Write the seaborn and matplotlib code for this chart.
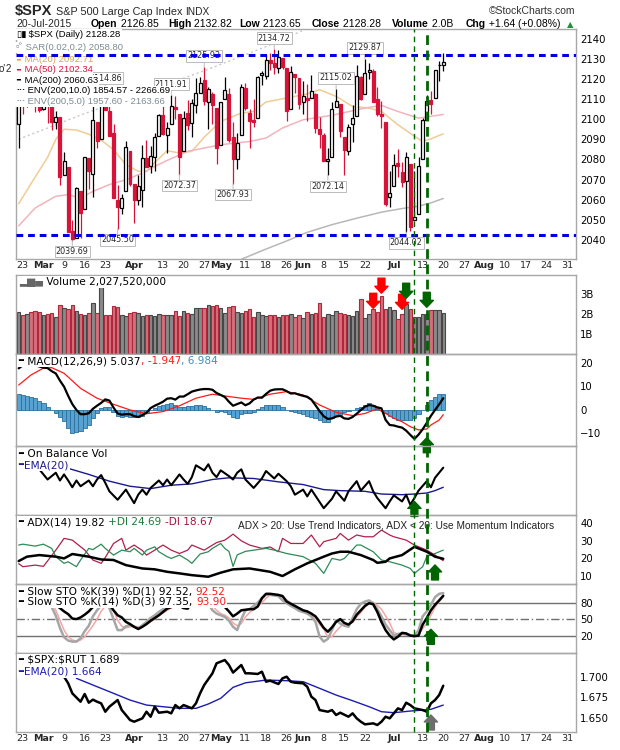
import matplotlib
matplotlib.use('Agg')
import matplotlib.pyplot as plt
import matplotlib.transforms as mtransforms
from matplotlib.lines import Line2D
import seaborn as sns

sns.set_theme(style='white')
plt.rcParams['font.family'] = ['DejaVu Sans']

# trading-day index: 0 = 20-Feb-2015 ... 103 = 20-Jul-2015, axis runs on to 31-Aug
opens = [2097.65, 2109.83, 2109.10, 2115.30, 2113.91, 2110.88, 2105.23, 2115.76, 2107.72, 2098.54,
         2100.91, 2072.25, 2076.14, 2044.69, 2041.10, 2064.56, 2055.35, 2080.59, 2072.84, 2098.69,
         2090.32, 2107.99, 2103.94, 2093.10, 2059.94, 2055.78, 2064.11, 2084.05, 2067.63, 2060.03,
         2064.87, 2080.79, 2076.94, 2081.29, 2091.51, 2102.03, 2092.28, 2097.82, 2105.96, 2102.58,
         2084.11, 2102.82, 2098.27, 2107.21, 2112.80, 2119.29, 2108.35, 2112.49, 2105.52, 2087.38,
         2110.23, 2112.63, 2091.26, 2079.96, 2092.13, 2115.56, 2102.87, 2099.62, 2100.43, 2122.07,
         2121.30, 2129.45, 2127.79, 2125.55, 2130.36, 2125.34, 2105.13, 2122.27, 2120.66, 2108.64,
         2110.41, 2110.64, 2112.35, 2095.09, 2092.34, 2079.07, 2081.12, 2106.24, 2107.43, 2091.34,
         2084.26, 2097.40, 2101.58, 2121.06, 2112.50, 2123.16, 2123.65, 2109.96, 2102.62, 2098.63,
         2061.19, 2067.00, 2078.03, 2073.95, 2069.52, 2077.66, 2049.73, 2052.74, 2080.03, 2099.72,
         2109.55, 2110.55, 2126.80, 2126.85]
highs = [2110.61, 2110.05, 2117.94, 2119.59, 2113.91, 2112.74, 2117.52, 2115.76, 2107.72, 2104.25,
         2100.91, 2083.49, 2076.14, 2050.08, 2066.41, 2064.56, 2081.41, 2080.59, 2106.85, 2098.69,
         2113.92, 2114.86, 2107.63, 2097.43, 2067.15, 2062.83, 2088.97, 2084.05, 2067.63, 2072.17,
         2086.99, 2089.81, 2086.69, 2093.31, 2102.61, 2107.65, 2098.62, 2111.91, 2111.30, 2102.58,
         2103.94, 2109.64, 2109.98, 2120.49, 2120.92, 2125.92, 2116.04, 2113.65, 2105.52, 2108.41,
         2120.95, 2115.24, 2098.42, 2092.90, 2117.66, 2117.69, 2105.06, 2110.19, 2121.45, 2123.89,
         2131.78, 2133.02, 2134.72, 2134.28, 2130.36, 2125.34, 2126.22, 2122.27, 2120.66, 2119.15,
         2117.59, 2121.92, 2112.89, 2100.99, 2093.01, 2085.62, 2108.50, 2115.02, 2107.43, 2091.34,
         2097.40, 2106.79, 2126.65, 2121.64, 2129.87, 2128.03, 2125.10, 2116.04, 2108.92, 2098.63,
         2074.28, 2082.78, 2085.06, 2078.61, 2083.74, 2077.66, 2074.28, 2081.31, 2100.67, 2111.98,
         2114.14, 2124.42, 2128.91, 2132.82]
lows = [2085.44, 2102.70, 2105.87, 2109.89, 2103.76, 2103.75, 2104.50, 2098.26, 2094.49, 2095.22,
        2067.27, 2072.21, 2044.16, 2039.69, 2041.10, 2041.17, 2055.35, 2065.08, 2061.23, 2085.56,
        2090.32, 2104.42, 2091.50, 2061.05, 2045.50, 2052.96, 2064.11, 2067.04, 2048.38, 2057.32,
        2056.52, 2076.10, 2073.30, 2074.29, 2091.51, 2092.33, 2083.24, 2097.82, 2100.02, 2072.37,
        2084.11, 2094.38, 2091.05, 2103.19, 2112.80, 2107.04, 2094.89, 2097.41, 2077.59, 2087.38,
        2110.23, 2088.46, 2067.93, 2074.99, 2092.13, 2104.58, 2085.57, 2096.04, 2100.43, 2116.81,
        2120.01, 2124.50, 2122.59, 2122.95, 2125.06, 2099.18, 2105.13, 2112.86, 2104.89, 2102.54,
        2099.14, 2110.64, 2093.23, 2085.67, 2079.11, 2072.14, 2081.12, 2106.24, 2091.33, 2072.49,
        2082.10, 2088.86, 2101.58, 2109.45, 2112.50, 2119.89, 2108.58, 2101.78, 2095.38, 2056.64,
        2056.32, 2067.00, 2071.02, 2066.11, 2044.02, 2044.66, 2049.73, 2052.74, 2080.03, 2099.72,
        2102.49, 2110.55, 2119.06, 2123.66]
closes = [2110.30, 2109.66, 2115.48, 2113.86, 2110.74, 2104.50, 2117.39, 2107.78, 2098.53, 2101.04,
          2071.26, 2079.43, 2044.16, 2040.24, 2065.95, 2053.40, 2081.19, 2074.28, 2099.50, 2089.27,
          2108.10, 2104.42, 2091.50, 2061.05, 2056.15, 2061.02, 2086.24, 2067.89, 2059.69, 2066.96,
          2080.62, 2076.33, 2081.90, 2091.18, 2102.06, 2092.43, 2095.84, 2106.63, 2104.99, 2081.18,
          2100.40, 2097.29, 2107.96, 2112.93, 2117.69, 2108.92, 2114.76, 2106.85, 2085.51, 2108.29,
          2114.49, 2089.46, 2080.15, 2088.00, 2116.10, 2105.33, 2099.12, 2098.48, 2121.10, 2122.73,
          2129.20, 2127.83, 2125.85, 2130.82, 2126.06, 2104.20, 2123.48, 2120.79, 2107.39, 2111.73,
          2109.60, 2114.07, 2095.84, 2092.83, 2079.28, 2080.15, 2105.20, 2108.86, 2094.11, 2084.43,
          2096.29, 2100.44, 2121.24, 2109.99, 2122.85, 2124.20, 2108.58, 2102.31, 2101.49, 2057.64,
          2063.11, 2077.42, 2076.78, 2068.76, 2081.34, 2046.68, 2051.31, 2076.62, 2099.60, 2108.95,
          2107.40, 2124.29, 2126.64, 2128.28]
volume_b = [2.08, 1.92, 2.00, 2.10, 2.13, 2.10, 1.95, 2.00, 2.02, 1.85,
            2.45, 2.28, 2.25, 2.45, 2.13, 2.00, 1.95, 2.05, 2.55, 2.05,
            3.35, 1.95, 1.92, 2.38, 2.33, 1.95, 1.90, 2.02, 2.10, 2.05,
            1.88, 1.95, 1.92, 1.88, 2.00, 1.95, 1.92, 1.95, 2.13, 1.88,
            2.13, 2.05, 2.00, 2.28, 2.30, 2.28, 2.45, 2.40, 2.45, 2.28,
            2.05, 2.33, 2.38, 2.10, 2.05, 2.12, 2.25, 1.85, 2.08, 1.95,
            1.90, 1.95, 1.92, 1.85, 1.92, 1.95, 1.97, 1.85, 1.95, 1.80,
            2.08, 2.00, 2.05, 2.52, 1.85, 2.00, 1.95, 2.12, 2.02, 2.00,
            1.93, 1.90, 2.13, 2.75, 1.80, 2.00, 2.22, 2.08, 2.90, 2.25,
            2.35, 2.20, 1.75, 2.00, 2.50, 2.25, 1.83, 1.83, 1.97, 2.00,
            2.20, 2.20, 2.20, 2.03]

ma20_days = [0, 3, 7, 9, 11, 14, 17, 20, 23, 26, 29, 31, 33, 36, 39, 42, 45, 49, 54, 57, 60, 64,
             67, 70, 73, 77, 81, 85, 88, 92, 96, 98, 100, 103]
ma20_vals = [2058, 2068, 2081, 2090, 2095, 2094.6, 2092.5, 2089.6, 2084.8, 2077.4, 2074.1, 2074,
             2078.5, 2084.3, 2083.2, 2084, 2091, 2098.9, 2103, 2103.8, 2108.5, 2110.1, 2111.3,
             2112.5, 2114.6, 2111.3, 2106.3, 2105.5, 2103.8, 2097.2, 2091.5, 2089, 2090.2, 2092.7]
ma50_days = [0, 4, 9, 12, 15, 18, 22, 26, 30, 33, 36, 41, 49, 56, 60, 64, 69, 76, 84, 88, 92, 97, 103]
ma50_vals = [2047, 2055.9, 2061.7, 2062.5, 2060.8, 2064.1, 2067.5, 2069.9, 2073.2, 2076.5, 2079.5,
             2084, 2087.3, 2088.9, 2090.6, 2095.6, 2099.7, 2101.9, 2105.5, 2106.8, 2103.8, 2100.5,
             2102.3]
ma200_days = [54, 60, 65, 70, 76, 82, 88, 93, 97, 100, 103]
ma200_vals = [2030.4, 2035.5, 2039.5, 2043.8, 2047.6, 2050.8, 2053.8, 2055.6, 2056.8, 2058.4, 2060.6]
env_days = [0, 15, 30, 45, 60, 70]
env_vals = [2090, 2102, 2113, 2124, 2136, 2145]

label_days = [13, 21, 24, 37, 39, 45, 52, 62, 75, 77, 84, 94]
label_is_low = [True, False, True, False, True, False, True, False, True, False, False, True]

macd = [17.7, 19.0, 19.5, 19.5, 19.0, 18.5, 18.0, 17.8, 16.5, 15.5,
        12.5, 9.9, 6.0, 2.5, 0.0, -1.8, -1.8, -1.4, 0.5, 1.8,
        3.0, 4.5, 4.0, 1.0, -1.5, -2.0, -1.8, -1.8, -2.6, -3.0,
        -2.2, -1.2, 0.8, 1.8, 2.6, 3.5, 4.8, 5.0, 4.4, 5.7,
        5.7, 6.7, 7.8, 8.3, 8.7, 8.9, 8.9, 8.6, 7.2, 6.4,
        5.5, 3.5, 1.8, 2.5, 3.2, 2.0, 2.8, 4.4, 5.3, 5.2,
        6.8, 8.2, 8.7, 8.8, 8.8, 8.0, 7.0, 7.1, 6.5, 6.0,
        5.6, 4.4, 2.0, -0.5, -2.7, -3.8, -3.6, -2.8, -2.5, -3.6,
        -3.8, -3.0, -1.6, 0.0, 1.4, 2.1, 1.8, 1.1, 0.7, -4.2,
        -6.4, -6.6, -7.1, -7.5, -8.8, -10.6, -12.3, -10.5, -8.2, -5.5,
        -2.5, 0.0, 2.4, 5.0]
macd_hist = [6.7, 6.4, 6.0, 5.5, 5.0, 4.0, 2.8, 1.4, -0.1, -1.1,
             -2.8, -4.7, -7.5, -9.9, -9.5, -8.9, -7.5, -6.4, -3.3, -1.4,
             0.7, 1.4, 1.1, -0.7, -2.4, -3.1, -2.7, -3.1, -2.8, -3.1,
             -2.4, -1.4, -0.1, 0.7, 1.8, 2.1, 2.7, 3.0, 2.1, 1.4,
             1.4, 1.7, 1.8, 2.1, 2.1, 1.7, 0.7, 0.0, -0.7, -0.4,
             -0.7, -1.8, -3.0, -3.3, -1.8, -1.4, -1.4, -1.0, 0.4, 1.4,
             2.1, 2.1, 2.3, 2.1, 1.4, 0.0, -0.4, -1.0, -1.4, -1.8,
             -2.4, -2.8, -3.3, -4.3, -5.0, -5.2, -3.5, -2.7, -2.1, -1.0,
             -0.4, 0.0, 1.0, 1.3, 2.1, 2.8, 2.1, 1.1, 0.0, -1.4,
             -2.4, -3.5, -4.3, -4.3, -4.3, -4.3, -3.5, -1.8, 0.0, 2.1,
             4.3, 5.7, 6.7, 7.0]
signal_days = [0, 3, 6, 8, 11, 15, 19, 23, 27, 31, 35, 39, 43, 47, 51, 54, 57, 61, 65, 69,
               73, 77, 81, 84, 87, 89, 91, 93, 95, 97, 99, 100, 102, 103]
signal_vals = [10.6, 14.9, 17.8, 18.0, 15.6, 9.2, 5.0, 2.4, 0.0, -1.6, -0.7, 1.8, 5.0, 6.7, 5.7,
               5.0, 4.5, 6.7, 7.8, 6.4, 2.1, -1.0, -2.4, -1.5, 0.5, -1.5, -3.5, -5.0, -7.1, -8.5,
               -8.1, -6.4, -4.3, -2.0]

obv_days = [5, 6, 7, 9, 10, 11, 12, 13, 14, 15, 17, 18, 19, 20, 21, 22, 24, 26, 27, 28,
            29, 30, 31, 32, 34, 35, 36, 37, 39, 40, 41, 42, 43, 45, 46, 47, 48, 49, 51, 52,
            53, 54, 55, 57, 59, 60, 62, 63, 65, 66, 67, 69, 70, 71, 74, 76, 77, 79, 80, 82,
            83, 85, 86, 87, 89, 90, 91, 93, 94, 95, 96, 97, 99, 100, 101, 103]
obv_vals = [25.5, 24.0, 22.5, 24.5, 22.2, 24.0, 22.2, 20.2, 22.2, 20.5, 22.2, 20.5, 22.5, 23.8,
            21.5, 19.0, 16.5, 19.5, 17.5, 15.5, 18.0, 19.5, 18.0, 20.0, 22.2, 20.8, 22.5, 20.8,
            24.0, 22.5, 21.2, 23.2, 26.7, 25.2, 27.0, 24.5, 23.2, 25.2, 23.5, 22.5, 24.5, 25.5,
            22.5, 20.0, 22.8, 25.0, 22.8, 24.2, 22.0, 20.5, 18.0, 19.5, 17.5, 19.5, 14.0, 16.8,
            19.0, 16.2, 19.0, 22.0, 19.2, 22.0, 19.0, 17.0, 14.0, 16.0, 17.8, 16.0, 18.0, 15.0,
            17.0, 19.2, 22.0, 20.2, 23.0, 26.0]
obv_ema_days = [12, 17, 22, 27, 32, 37, 42, 47, 51, 57, 63, 69, 74, 78, 84, 88, 93, 96, 99, 101, 103]
obv_ema_vals = [25.8, 24.0, 22.0, 20.5, 19.8, 20.8, 21.2, 22.5, 23.0, 22.8, 21.8, 21.0, 19.5,
                19.2, 19.0, 18.2, 18.0, 18.2, 18.5, 19.2, 20.2]

adx_days = [0, 2, 5, 9, 11, 13, 17, 20, 23, 26, 30, 33, 36, 39, 42, 46, 49, 52, 56, 61,
            64, 67, 70, 74, 76, 78, 80, 83, 86, 87, 89, 90, 93, 96, 99, 101, 103]
adx_vals = [18.5, 21.0, 21.9, 21.0, 20.0, 22.5, 21.0, 19.4, 19.1, 16.2, 14.3, 13.8, 12.4, 11.5,
            10.5, 9.6, 11.9, 13.8, 14.3, 12.4, 10.0, 13.8, 17.2, 21.0, 22.8, 23.8, 23.8, 21.9,
            19.1, 17.5, 18.1, 20.0, 21.9, 26.6, 23.8, 21.0, 19.8]
pdi_days = [0, 1, 4, 6, 8, 9, 11, 12, 14, 15, 17, 18, 20, 21, 23, 25, 27, 28, 30, 31,
            33, 34, 36, 37, 39, 41, 42, 44, 46, 47, 49, 50, 51, 52, 53, 55, 57, 60, 62, 65,
            69, 72, 74, 76, 78, 79, 82, 83, 86, 88, 90, 93, 95, 96, 98, 99, 101, 103]
pdi_vals = [27.6, 28.1, 27.0, 28.1, 25.7, 21.0, 17.2, 18.1, 15.3, 19.1, 25.7, 25.0, 28.1, 25.7,
            21.9, 24.7, 23.8, 25.7, 21.9, 24.7, 26.6, 23.8, 21.0, 20.0, 21.9, 19.1, 17.2, 22.5,
            23.8, 25.7, 28.5, 25.7, 24.0, 15.5, 22.0, 24.0, 24.7, 25.7, 24.7, 22.8, 21.0, 17.2,
            11.5, 20.0, 19.0, 20.0, 27.6, 27.6, 23.8, 19.1, 18.1, 16.2, 14.3, 11.5, 15.3, 21.0,
            22.8, 24.7]
mdi_days = [0, 1, 4, 6, 9, 11, 13, 16, 18, 20, 21, 23, 25, 26, 28, 30, 31, 33, 35, 37,
            39, 41, 42, 45, 48, 50, 52, 54, 56, 59, 61, 63, 64, 66, 69, 71, 73, 74, 77, 78,
            80, 82, 84, 86, 88, 90, 91, 94, 96, 99, 101, 103]
mdi_vals = [17.0, 15.3, 16.2, 15.5, 24.7, 31.4, 30.4, 24.8, 19.1, 17.2, 20.5, 28.5, 31.4, 24.7,
            27.6, 24.5, 21.9, 24.7, 27.6, 24.7, 22.8, 24.7, 27.6, 24.7, 29.0, 30.4, 33.8, 30.0,
            27.6, 25.7, 26.5, 23.8, 31.4, 28.5, 28.5, 33.3, 26.6, 29.5, 31.4, 34.2, 30.4, 33.3,
            32.3, 32.3, 36.1, 33.3, 32.3, 30.4, 27.6, 24.7, 21.9, 18.7]

sto_k39 = [85, 86, 87, 88, 87, 85, 84, 82, 80, 76, 70, 64, 59, 51, 50, 53, 58, 64, 72, 80,
           86, 84, 76, 66, 57, 53, 45, 41, 36, 32, 36, 41, 47, 52, 57, 63, 69, 72, 75, 74,
           70, 69, 80, 88, 88, 86, 80, 74, 73, 75, 72, 64, 55, 60, 66, 67, 68, 68, 73, 88,
           96, 96, 95, 94, 92, 82, 78, 74, 70, 66, 64, 60, 55, 45, 34, 27, 35, 45, 50, 43,
           40, 46, 58, 66, 74, 79, 77, 63, 45, 30, 20, 13, 18, 25, 24, 20, 19, 20, 40, 52,
           66, 76, 84, 92.5]
sto_k14 = [90, 91, 90, 89, 88, 86, 84, 82, 72, 56, 34, 17, 11, 9, 9, 15, 28, 38, 55, 66,
           75, 80, 70, 50, 30, 30, 37, 39, 36, 33, 39, 45, 52, 57, 63, 68, 70, 75, 80, 79,
           78, 82, 90, 94, 95, 88, 78, 66, 60, 57, 54, 47, 36, 30, 50, 66, 68, 74, 80, 88,
           95, 94, 93, 92, 84, 79, 74, 70, 65, 63, 60, 55, 45, 18, 9, 14, 30, 48, 42, 38,
           36, 52, 68, 78, 82, 84, 79, 68, 55, 40, 30, 20, 23, 24, 22, 21, 19, 30, 55, 64,
           76, 90, 96, 97.4]
sto_d3 = [90, 90, 90, 89, 88, 88, 86, 84, 80, 66, 48, 30, 18, 12, 10, 12, 18, 28, 38, 50,
          64, 74, 76, 66, 48, 37, 34, 36, 37, 36, 37, 40, 45, 50, 56, 61, 66, 70, 76, 78,
          78, 80, 85, 89, 92, 90, 84, 74, 66, 60, 57, 52, 43, 38, 42, 54, 62, 68, 74, 80,
          88, 94, 94, 93, 90, 85, 79, 73, 69, 66, 64, 60, 53, 40, 32, 17, 18, 28, 36, 42,
          40, 44, 54, 62, 72, 78, 80, 75, 68, 56, 43, 26, 22, 22, 22, 21, 21, 23, 33, 42,
          57, 72, 82, 90]

ratio_days = [10, 11, 12, 13, 15, 16, 17, 18, 19, 20, 21, 22, 24, 25, 26, 27, 28, 30, 31, 32,
              33, 34, 36, 37, 38, 39, 40, 42, 43, 44, 45, 47, 48, 49, 50, 51, 52, 54, 55, 56,
              58, 59, 60, 61, 63, 64, 65, 66, 67, 69, 70, 71, 72, 73, 75, 76, 77, 78, 80, 81,
              82, 83, 84, 86, 87, 88, 89, 90, 92, 93, 94, 95, 96, 98, 99, 100, 101, 102, 103]
ratio_vals = [1.7030, 1.7000, 1.6919, 1.6797, 1.6695, 1.6789, 1.6683, 1.6720, 1.6695, 1.6675,
              1.6573, 1.6634, 1.6715, 1.6593, 1.6533, 1.6472, 1.6451, 1.6492, 1.6573, 1.6512,
              1.6634, 1.6561, 1.6573, 1.6553, 1.6654, 1.6614, 1.6654, 1.6614, 1.6675, 1.6797,
              1.6898, 1.7041, 1.7163, 1.7183, 1.7203, 1.7142, 1.7050, 1.7142, 1.7041, 1.7041,
              1.7033, 1.7061, 1.6939, 1.6951, 1.6911, 1.6980, 1.7000, 1.6939, 1.6927, 1.6919,
              1.6878, 1.6756, 1.6715, 1.6593, 1.6573, 1.6593, 1.6533, 1.6561, 1.6512, 1.6553,
              1.6492, 1.6451, 1.6419, 1.6431, 1.6411, 1.6451, 1.6512, 1.6492, 1.6614, 1.6593,
              1.6683, 1.6654, 1.6614, 1.6593, 1.6573, 1.6675, 1.6715, 1.6776, 1.6890]
ratio_ema_days = [14, 19, 23, 27, 31, 35, 39, 43, 46, 49, 52, 55, 60, 65, 69, 73, 77, 81, 85,
                  88, 91, 95, 98, 100, 103]
ratio_ema_vals = [1.6980, 1.6878, 1.6797, 1.6715, 1.6654, 1.6634, 1.6614, 1.6614, 1.6667,
                  1.6736, 1.6870, 1.6925, 1.6959, 1.6951, 1.6939, 1.6858, 1.6776, 1.6707,
                  1.6634, 1.6573, 1.6561, 1.6581, 1.6593, 1.6602, 1.6654]

tick_days = [1, 6, 11, 16, 21, 28, 35, 40, 45, 49, 55, 60, 65, 69, 74, 79, 84, 91, 98, 103,
             108, 113, 118, 123, 128, 133]
tick_text = ['23', 'Mar', '9', '16', '23', 'Apr', '13', '20', '27', 'May', '11', '18', '26',
             'Jun', '8', '15', '22', 'Jul', '13', '20', '27', 'Aug', '10', '17', '24', '31']
months = {'Mar', 'Apr', 'May', 'Jun', 'Jul', 'Aug'}
marker_days = [96, 99]

# ------------------------------------------------------------------
W, H = 620, 750
L, R = 15.5, 576
XLIM = (-0.78, 135.2)
RED = '#d8133a'
GREEN = '#006400'
BORDER = '#a8a8a8'
PL = ['Liberation Sans', 'DejaVu Sans']
DV = ['DejaVu Sans']
days = list(range(len(closes)))

fig = plt.figure(figsize=(6.2, 7.5), dpi=100)


def panel(top, bottom):
    ax = fig.add_axes([L / W, 1 - bottom / H, (R - L) / W, (bottom - top) / H])
    ax.set_facecolor('none')
    ax.set_xlim(*XLIM)
    for s in ax.spines.values():
        s.set_color(BORDER)
        s.set_linewidth(1)
    ax.set_xticks([])
    ax.yaxis.tick_right()
    ax.tick_params(axis='y', length=0, pad=3, labelsize=7.3, colors='black')
    return ax


def line(ax, x, y, color, lw, z=3):
    sns.lineplot(x=x, y=y, ax=ax, color=color, linewidth=lw, estimator=None,
                 sort=False, legend=False, zorder=z)


def chain(ax, x, y, parts, size, family=DV, bg=True, va='center', z=30):
    prev = None
    for txt, col, wt in parts:
        kw = dict(fontsize=size, color=col, fontweight=wt, family=family,
                  zorder=z, annotation_clip=False, ha='left')
        if bg:
            kw['bbox'] = dict(boxstyle='square,pad=0.08', fc='white', ec='none')
        if prev is None:
            prev = ax.annotate(txt, xy=(x, H - y), xycoords='figure pixels', va=va, **kw)
        else:
            prev = ax.annotate(txt, xy=(1, 0), xycoords=prev, va='bottom', **kw)
    return prev


def block_arrow(ax, day, tip, up, color):
    ax.annotate('', xy=(day, tip), xytext=(0, -15 if up else 15), textcoords='offset pixels',
                arrowprops=dict(arrowstyle='simple,head_length=0.5,head_width=0.95,tail_width=0.5',
                                fc=color, ec=color, shrinkA=0, shrinkB=0, mutation_scale=10),
                annotation_clip=False, zorder=25)


def date_axis(ax):
    ax.set_xticks(tick_days)
    ax.set_xticklabels(tick_text)
    ax.set_xticks(range(0, 136), minor=True)
    ax.tick_params(axis='x', which='major', length=2.5, width=0.7, color=BORDER,
                   pad=1.5, labelsize=6.8, direction='in')
    ax.tick_params(axis='x', which='minor', length=1.5, width=0.5, color=BORDER, direction='in')
    for lab in ax.get_xticklabels():
        if lab.get_text() in months:
            lab.set_fontweight('bold')


ax_p = panel(29.3, 259.3)
ax_v = panel(274.5, 354)
ax_m = panel(354, 445.7)
ax_o = panel(445.7, 515.3)
ax_a = panel(515.3, 584.3)
ax_s = panel(584.3, 653.3)
ax_r = panel(653.3, 732.3)

# ---------------- header ----------------
fig.text(15 / W, 1 - 15 / H, r'\$SPX', fontsize=10.5, fontweight='bold', family=PL, va='baseline')
fig.text(56 / W, 1 - 15 / H, 'S&P 500 Large Cap Index', fontsize=7.8, family=PL, va='baseline')
fig.text(185 / W, 1 - 15 / H, 'INDX', fontsize=7.3, family=PL, va='baseline')
fig.text(575 / W, 1 - 14 / H, '\u00a9StockCharts.com', fontsize=7.5, ha='right',
         family=PL, va='baseline', color='#333333')
fig.text(16 / W, 1 - 27 / H, '20-Jul-2015', fontsize=7.5, family=PL, va='baseline')
for x0, name, val in [(91, 'Open', '2126.85'), (168, 'High', '2132.82'), (239, 'Low', '2123.65'),
                      (312, 'Close', '2128.28'), (392, 'Volume', '2.0B'),
                      (466, 'Chg', '+1.64 (+0.08%)')]:
    chain(ax_p, x0, 27, [(name, 'black', 'bold'), (' ' + val, 'black', 'normal')], 7.5,
          family=PL, bg=False, va='baseline')
fig.text(567 / W, 1 - 27 / H, '\u25b2', fontsize=6, color='#1f8f3a', va='baseline', family=DV)
fig.text(-1 / W, 1 - 69 / H, "o'", fontsize=7, family=PL, va='center')
fig.text(6 / W, 1 - 69 / H, '2', fontsize=7, family=PL, va='center')

# ---------------- price ----------------
edge_cols, face_cols, bottoms, heights = [], [], [], []
for i in days:
    down = i > 0 and closes[i] < closes[i - 1]
    c = RED if down else 'black'
    edge_cols.append(c)
    face_cols.append('white' if closes[i] >= opens[i] else c)
    bottoms.append(min(opens[i], closes[i]))
    heights.append(max(abs(closes[i] - opens[i]), 0.35))

line(ax_p, env_days, env_vals, '#c8c8c8', 1.0, z=1)
ax_p.lines[-1].set_linestyle((0, (1.5, 2)))
line(ax_p, ma20_days, ma20_vals, '#f0cc94', 1.1, z=1)
line(ax_p, ma50_days, ma50_vals, '#f2b4bc', 1.1, z=1)
line(ax_p, ma200_days, ma200_vals, '#b8b8b8', 1.1, z=1)
ax_p.vlines(days, lows, highs, colors=edge_cols, linewidth=0.9, zorder=3)
ax_p.bar(days, heights, bottom=bottoms, width=0.72, color=face_cols, edgecolor=edge_cols,
         linewidth=0.9, zorder=4)
for lvl in (2131.7, 2042.6):
    ax_p.axhline(lvl, color='#0000e6', lw=2.2, ls=(0, (2.2, 1.6)), zorder=35)

for d, is_low in zip(label_days, label_is_low):
    v = lows[d] if is_low else highs[d]
    ax_p.annotate(f'{v:.2f}', xy=(d, v), xytext=(0, -11 if is_low else 11),
                  textcoords='offset pixels', ha='center', va='center', fontsize=5.8,
                  bbox=dict(boxstyle='square,pad=0.15', fc='white', ec='#bbbbbb', lw=0.7),
                  arrowprops=dict(arrowstyle='-', color='#bbbbbb', lw=0.7, shrinkA=0, shrinkB=0),
                  zorder=6)

ax_p.set_ylim(2030.4, 2144.6)
ax_p.set_yticks(range(2040, 2141, 10))
date_axis(ax_p)

chain(ax_p, 16, 34.7, [('\u25af\u25ae', 'black', 'normal'), (r' \$SPX (Daily) 2128.28', 'black', 'normal')], 6.8, PL)
chain(ax_p, 16, 47.3, [('\u25ab\u00b0', '#7d8b95', 'normal'), (' SAR(0.02,0.2) 2058.80', '#7d8b95', 'normal')], 6.8, PL)
chain(ax_p, 16, 59.6, [('\u2501', '#dca24a', 'normal'), (' MA(20) 2092.71', '#dca24a', 'normal')], 6.8, PL)
chain(ax_p, 16, 70.0, [('\u2501', RED, 'normal'), (' MA(50) 2102.34', RED, 'normal')], 6.8, PL)
chain(ax_p, 16, 80.5, [('\u2501', 'black', 'normal'), (' MA(200) 2060.63', 'black', 'normal')], 6.8, PL)
chain(ax_p, 16, 90.9, [('\u00b7\u00b7\u00b7', 'black', 'bold'), (' ENV(200,10.0) 1854.57 - 2266.69', 'black', 'normal')], 6.8, PL)
chain(ax_p, 16, 101.3, [('\u00b7\u00b7\u00b7', '#7d8b95', 'bold'), (' ENV(200,5.0) 1957.60 - 2163.66', '#7d8b95', 'normal')], 6.8, PL)

# ---------------- volume ----------------
vol_face = ['#d4707c' if c == RED else '#8a8a8a' for c in edge_cols]
vol_edge = ['#b0283c' if c == RED else '#474747' for c in edge_cols]
ax_v.bar(days, volume_b, width=0.85, color=vol_face, edgecolor=vol_edge, linewidth=0.8, zorder=2)
ax_v.set_ylim(0, 3.95)
ax_v.set_yticks([1, 2, 3])
ax_v.set_yticklabels(['1B', '2B', '3B'])
chain(ax_v, 19, 281.7, [('\u2582\u2586\u2584', '#666666', 'normal'), (' Volume 2,027,520,000', 'black', 'normal')], 7.6)
for d, tip, col in [(86, 2.27, '#ff0000'), (88, 3.02, '#ff0000'), (93, 2.22, '#ff0000'),
                    (94, 2.77, GREEN), (99, 2.32, GREEN)]:
    block_arrow(ax_v, d, tip, False, col)

# ---------------- MACD ----------------
ax_m.bar(days, macd_hist, width=1.0, color='#58a2d2', edgecolor='#2c6f9e', linewidth=0.6, zorder=2)
line(ax_m, signal_days, signal_vals, '#ff1a1a', 0.9, z=3)
line(ax_m, days, macd, 'black', 1.6, z=4)
ax_m.set_ylim(-15.2, 23.8)
ax_m.set_yticks([-10, 0, 10, 20])
chain(ax_m, 18, 361, [('\u2501', 'black', 'normal'), (' MACD(12,26,9) 5.037', 'black', 'normal'),
                      (', -1.947', '#ff1a1a', 'normal'), (', 6.984', '#3a8fc4', 'normal')], 7.6)
block_arrow(ax_m, 99, -11.8, True, GREEN)

# ---------------- OBV ----------------
line(ax_o, obv_ema_days, obv_ema_vals, '#1a1a8c', 1.0, z=3)
line(ax_o, obv_days, obv_vals, 'black', 1.5, z=4)
ax_o.set_ylim(11.9, 32.5)
ax_o.set_yticks([])
chain(ax_o, 18, 454, [('\u2501', 'black', 'normal'), (' On Balance Vol', 'black', 'normal')], 7.6)
chain(ax_o, 18, 465, [('\u2501', '#1a1a8c', 'normal'), ('EMA(20)', '#1a1a8c', 'normal')], 7.6)
block_arrow(ax_o, 96, 16.0, True, GREEN)

# ---------------- ADX ----------------
line(ax_a, mdi_days, mdi_vals, '#b0204c', 0.9, z=3)
line(ax_a, pdi_days, pdi_vals, '#2e8b57', 0.9, z=3)
line(ax_a, adx_days, adx_vals, 'black', 1.8, z=4)
ax_a.set_ylim(5.3, 44.5)
ax_a.set_yticks([10, 20, 30, 40])
chain(ax_a, 18, 522.3, [('\u2501', 'black', 'normal'), (' ADX(14) 19.82 ', 'black', 'normal'),
                        ('+DI 24.69 ', '#1e7a3c', 'normal'), ('-DI 18.67', '#a0143c', 'normal')], 7.6)
chain(ax_a, 237.5, 525.5, [('ADX > 20: Use Trend Indicators, ADX < 20: Use Momentum Indicators',
                            '#222222', 'normal')], 7.3, PL, bg=False)
block_arrow(ax_a, 101, 16.3, True, GREEN)

# ---------------- Slow STO ----------------
for lvl, ls in [(80, '-'), (20, '-'), (50, (0, (6, 2, 1, 2)))]:
    ax_s.axhline(lvl, color='#707070', lw=1, ls=ls, zorder=1)
line(ax_s, days, sto_d3, '#f5a6a6', 1.1, z=2)
line(ax_s, days, sto_k14, '#a6a6a6', 1.8, z=3)
line(ax_s, days, sto_k39, 'black', 1.8, z=4)
ax_s.set_ylim(-12.2, 113.3)
ax_s.set_yticks([20, 50, 80])
chain(ax_s, 18, 591.7, [('\u2501', 'black', 'normal'), (' Slow STO %K(39) %D(1) 92.52, ', 'black', 'normal'),
                        ('92.52', '#ff1a1a', 'normal')], 7.6)
chain(ax_s, 18, 601.7, [('\u2501', 'black', 'normal'), (' Slow STO %K(14) %D(3) 97.35, ', 'black', 'normal'),
                        ('93.90', '#ff1a1a', 'normal')], 7.6)
block_arrow(ax_s, 100, 31.5, True, GREEN)

# ---------------- $SPX:$RUT ----------------
line(ax_r, ratio_ema_days, ratio_ema_vals, '#1c1cb0', 1.0, z=3)
line(ax_r, ratio_days, ratio_vals, 'black', 1.8, z=4)
ax_r.set_ylim(1.6322, 1.7285)
ax_r.set_yticks([1.650, 1.675, 1.700])
ax_r.set_yticklabels(['1.650', '1.675', '1.700'])
date_axis(ax_r)
chain(ax_r, 18, 660, [('\u2501', 'black', 'normal'), (r' \$SPX:\$RUT 1.689', 'black', 'normal')], 7.6)
chain(ax_r, 18, 671.7, [('\u2501', '#1c1cb0', 'normal'), ('EMA(20) 1.664', '#1c1cb0', 'normal')], 7.6)
block_arrow(ax_r, 100, 1.6533, True, '#6e6e6e')

for ax in (ax_p, ax_v, ax_m, ax_o, ax_a, ax_s, ax_r):
    ax.set_xlim(*XLIM)
    ax.set_xlabel('')
    ax.set_ylabel('')

# signal-day verticals through all panels
blend = mtransforms.blended_transform_factory(ax_p.transData, fig.transFigure)
for d, lw, dash in [(marker_days[0], 1.0, (0, (4, 3))), (marker_days[1], 2.0, (0, (3.5, 2)))]:
    fig.add_artist(Line2D([d, d], [1 - 732.3 / H, 1 - 29.3 / H], transform=blend,
                          color=GREEN, lw=lw, ls=dash, zorder=40))

fig.savefig('out.png', dpi=100)
